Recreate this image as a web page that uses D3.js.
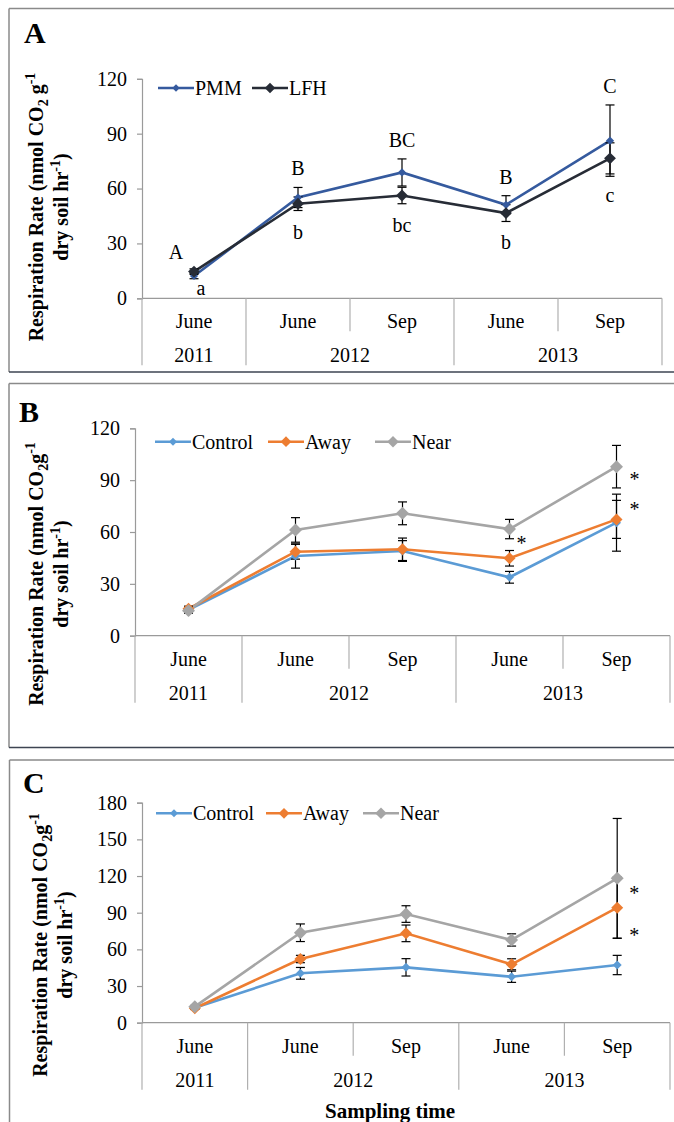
<!DOCTYPE html>
<html>
<head>
<meta charset="utf-8">
<script src="https://cdn.jsdelivr.net/npm/d3@7"></script>
<style>
  body { margin: 0; background: #fff; }
  svg { display: block; }
</style>
</head>
<body>
<svg id="chart" width="674" height="1122"></svg>
<script>
// categories (shared by all three panels)
const months = ["June", "June", "Sep", "June", "Sep"];
const years = ["2011", "2012", "2013"];
const yearSpans = [1, 2, 2];

// panel A - PMM vs LFH
const pmmA = [12.2, 55.1, 68.8, 51.1, 86.2];
const pmmAErr = [1.5, 5.5, 7.4, 5.0, 19.5];
const lfhA = [14.6, 51.7, 56.2, 46.6, 76.5];
const lfhAErr = [1.5, 3.7, 4.5, 4.6, 8.5];
const upperLettersA = ["A", "B", "BC", "B", "C"];
const lowerLettersA = ["a", "b", "bc", "b", "c"];
const ticksA = [0, 30, 60, 90, 120];

// panel B
const controlB = [14.9, 46.1, 49.0, 33.8, 65.4];
const controlBErr = [1.5, 7.0, 6.0, 3.4, 16.5];
const awayB = [15.6, 48.6, 50.0, 44.8, 67.3];
const awayBErr = [1.5, 4.3, 6.5, 4.5, 11.0];
const nearB = [14.5, 61.2, 70.8, 61.7, 97.8];
const nearBErr = [1.5, 7.1, 6.6, 5.6, 12.3];
const starsB = [[3, 54.4], [4, 91.1], [4, 73.7]];
const ticksB = [0, 30, 60, 90, 120];

// panel C
const controlC = [12.3, 40.4, 45.3, 37.6, 47.2];
const controlCErr = [1.0, 4.8, 7.1, 4.6, 7.9];
const awayC = [11.8, 52.1, 73.1, 47.8, 94.1];
const awayCErr = [1.0, 3.0, 6.8, 4.5, 25.0];
const nearC = [13.1, 73.6, 88.9, 67.7, 118.1];
const nearCErr = [1.0, 7.2, 6.8, 5.0, 49.0];
const starsC = [[4, 107.2], [4, 72.6]];
const ticksC = [0, 30, 60, 90, 120, 150, 180];

const svg = d3.select("#chart");

function diamond(size) {
  // excel style diamond = square turned 45deg
  return d3.symbol().type(d3.symbolSquare).size(size)();
}

function drawPanel(p) {
  const g = svg.append("g");

  // frame
  g.append("line").attr("x1", p.boxLeft).attr("x2", 700).attr("y1", p.boxTop).attr("y2", p.boxTop)
    .attr("stroke", "#8a8a8a").attr("stroke-width", 1.5);
  g.append("line").attr("x1", p.boxLeft).attr("x2", p.boxLeft).attr("y1", p.boxTop).attr("y2", p.boxBottom)
    .attr("stroke", "#8a8a8a").attr("stroke-width", 1.5);
  if (p.boxBottom < 1122) {
    g.append("line").attr("x1", p.boxLeft).attr("x2", 700).attr("y1", p.boxBottom).attr("y2", p.boxBottom)
      .attr("stroke", "#3d4452").attr("stroke-width", 1.5);
  }

  const x = d3.scaleBand().domain(d3.range(months.length)).range([p.x0, p.x1]).paddingInner(0).paddingOuter(0);
  const y = d3.scaleLinear().domain([0, p.yMax]).range([p.y0, p.yTop]);
  const cx = i => x(i) + x.bandwidth() / 2;

  // y axis
  const yAxis = g.append("g").attr("transform", `translate(${p.x0},0)`)
    .call(d3.axisLeft(y).tickValues(p.ticks).tickSize(5).tickPadding(10).tickFormat(d3.format("d")));
  yAxis.select(".domain").attr("stroke", "#9a9a9a").attr("stroke-width", 1.2);
  yAxis.selectAll(".tick line").attr("stroke", "#9a9a9a").attr("stroke-width", 1.2);
  yAxis.selectAll(".tick text").attr("font-size", 20).attr("fill", "#000");

  // category axis
  g.append("line").attr("x1", p.x0).attr("x2", p.x1).attr("y1", p.y0).attr("y2", p.y0)
    .attr("stroke", "#9a9a9a").attr("stroke-width", 1.2);
  const yearStarts = [0];
  yearSpans.forEach((s, i) => yearStarts.push(yearStarts[i] + s));
  d3.range(months.length + 1).forEach(i => {
    const xx = i < months.length ? x(i) : p.x1;
    const full = yearStarts.includes(i);
    g.append("line").attr("x1", xx).attr("x2", xx).attr("y1", p.y0)
      .attr("y2", p.y0 + (full ? 67 : 33))
      .attr("stroke", "#b0b0b0").attr("stroke-width", 1.2);
  });
  g.selectAll(".month").data(months).join("text")
    .attr("x", (d, i) => cx(i)).attr("y", p.y0 + 23).attr("dy", "0.35em")
    .attr("text-anchor", "middle").attr("font-size", 20).text(d => d);
  g.selectAll(".year").data(years).join("text")
    .attr("x", (d, i) => {
      const a = x(yearStarts[i]);
      const b = yearStarts[i + 1] < months.length ? x(yearStarts[i + 1]) : p.x1;
      return (a + b) / 2;
    })
    .attr("y", p.y0 + 57).attr("dy", "0.35em")
    .attr("text-anchor", "middle").attr("font-size", 20).text(d => d);

  // y title (two rotated lines)
  const t1 = g.append("text").attr("transform", `translate(${p.titleX},${p.titleY}) rotate(-90)`)
    .attr("text-anchor", "middle").attr("font-size", 20).attr("font-weight", "bold");
  t1.append("tspan").text("Respiration Rate (nmol CO");
  t1.append("tspan").attr("dy", 5).attr("font-size", 14).text("2");
  t1.append("tspan").attr("dy", -5).text(p.tight ? "g" : " g");
  t1.append("tspan").attr("dy", -8).attr("font-size", 14).text("-1");
  const t2 = g.append("text").attr("transform", `translate(${p.titleX + 25},${p.titleY}) rotate(-90)`)
    .attr("text-anchor", "middle").attr("font-size", 20).attr("font-weight", "bold");
  t2.append("tspan").text("dry soil hr");
  t2.append("tspan").attr("dy", -8).attr("font-size", 14).text("-1");
  t2.append("tspan").attr("dy", 8).text(")");

  // panel letter
  g.append("text").attr("x", p.letterX).attr("y", p.letterY).attr("font-size", 30)
    .attr("font-weight", "bold").text(p.letter);

  // series
  const line = d3.line().x((d, i) => cx(i)).y(d => y(d));
  p.series.forEach(s => {
    g.append("path").datum(s.values).attr("d", line)
      .attr("fill", "none").attr("stroke", s.color).attr("stroke-width", 2.6);
  });
  p.series.forEach(s => {
    s.values.forEach((v, i) => {
      const e = s.err[i];
      const xx = cx(i);
      g.append("line").attr("x1", xx).attr("x2", xx).attr("y1", y(v - e)).attr("y2", y(v + e))
        .attr("stroke", "#000").attr("stroke-width", 1.2);
      [v - e, v + e].forEach(w => {
        g.append("line").attr("x1", xx - 4.5).attr("x2", xx + 4.5).attr("y1", y(w)).attr("y2", y(w))
          .attr("stroke", "#000").attr("stroke-width", 1.2);
      });
    });
  });
  p.series.forEach(s => {
    g.selectAll(null).data(s.values).join("path")
      .attr("d", diamond(s.size))
      .attr("transform", (d, i) => `translate(${cx(i)},${y(d)}) rotate(45)`)
      .attr("fill", s.color);
  });

  // legend
  p.series.forEach((s, k) => {
    const lx = p.legendX[k];
    g.append("line").attr("x1", lx).attr("x2", lx + 36).attr("y1", p.legendY).attr("y2", p.legendY)
      .attr("stroke", s.color).attr("stroke-width", 2.6);
    g.append("path").attr("d", diamond(s.size * 0.8))
      .attr("transform", `translate(${lx + 18},${p.legendY}) rotate(45)`).attr("fill", s.color);
    g.append("text").attr("x", lx + 37).attr("y", p.legendY).attr("dy", "0.35em")
      .attr("font-size", 20).text(s.name);
  });

  return { g, x, y, cx };
}

// ---- Panel A
const A = drawPanel({
  letter: "A", letterX: 24, letterY: 43,
  boxLeft: 9, boxTop: 8.5, boxBottom: 372,
  x0: 142, x1: 662, y0: 298.3, yTop: 78.8, yMax: 120, ticks: ticksA,
  titleX: 43, titleY: 207,
  legendX: [158, 252], legendY: 88,
  series: [
    { name: "PMM", values: pmmA, err: pmmAErr, color: "#355a9e", size: 34 },
    { name: "LFH", values: lfhA, err: lfhAErr, color: "#272c36", size: 70 }
  ]
});
// significance letters
A.g.selectAll(".up").data(upperLettersA).join("text")
  .attr("x", (d, i) => A.cx(i) + (i === 0 ? -18 : 0))
  .attr("y", (d, i) => A.y(pmmA[i] + pmmAErr[i]) - (i === 0 ? 21 : 19)).attr("dy", "0.35em")
  .attr("text-anchor", "middle").attr("font-size", 20).text(d => d);
A.g.selectAll(".low").data(lowerLettersA).join("text")
  .attr("x", (d, i) => A.cx(i) + (i === 0 ? 7 : 0))
  .attr("y", (d, i) => A.y(lfhA[i] - lfhAErr[i]) + (i === 0 ? 14 : 21)).attr("dy", "0.35em")
  .attr("text-anchor", "middle").attr("font-size", 20).text(d => d);

// ---- Panel B
const B = drawPanel({
  letter: "B", letterX: 19, letterY: 422,
  boxLeft: 9, boxTop: 383.5, boxBottom: 747.5,
  x0: 135, x1: 670, y0: 635.7, yTop: 428.3, yMax: 120, ticks: ticksB,
  titleX: 43, titleY: 574, tight: true,
  legendX: [155, 268, 375], legendY: 441.7,
  series: [
    { name: "Control", values: controlB, err: controlBErr, color: "#5b9bd5", size: 40 },
    { name: "Away", values: awayB, err: awayBErr, color: "#ed7d31", size: 72 },
    { name: "Near", values: nearB, err: nearBErr, color: "#a5a5a5", size: 84 }
  ]
});
B.g.selectAll(".star").data(starsB).join("text")
  .attr("x", d => B.cx(d[0]) + (d[0] === 3 ? 12 : 18))
  .attr("y", d => B.y(d[1]) + 8)
  .attr("text-anchor", "middle").attr("font-size", 20).text("*");

// ---- Panel C
const C = drawPanel({
  letter: "C", letterX: 23, letterY: 793,
  boxLeft: 9.5, boxTop: 760, boxBottom: 2000,
  x0: 142, x1: 670, y0: 1022.7, yTop: 802.7, yMax: 180, ticks: ticksC,
  titleX: 47, titleY: 945, tight: true,
  legendX: [156, 266, 363], legendY: 813.3,
  series: [
    { name: "Control", values: controlC, err: controlCErr, color: "#5b9bd5", size: 40 },
    { name: "Away", values: awayC, err: awayCErr, color: "#ed7d31", size: 72 },
    { name: "Near", values: nearC, err: nearCErr, color: "#a5a5a5", size: 84 }
  ]
});
C.g.selectAll(".star").data(starsC).join("text")
  .attr("x", d => C.cx(d[0]) + 17)
  .attr("y", d => C.y(d[1]) + 8)
  .attr("text-anchor", "middle").attr("font-size", 20).text("*");

// x title
svg.append("text").attr("x", 390).attr("y", 1111).attr("dy", "0.35em")
  .attr("text-anchor", "middle").attr("font-size", 21).attr("font-weight", "bold")
  .text("Sampling time");

// serif everywhere (inline style beats the axis' font-family attribute)
svg.selectAll("text").style("font-family", "Liberation Serif");
</script>
</body>
</html>
